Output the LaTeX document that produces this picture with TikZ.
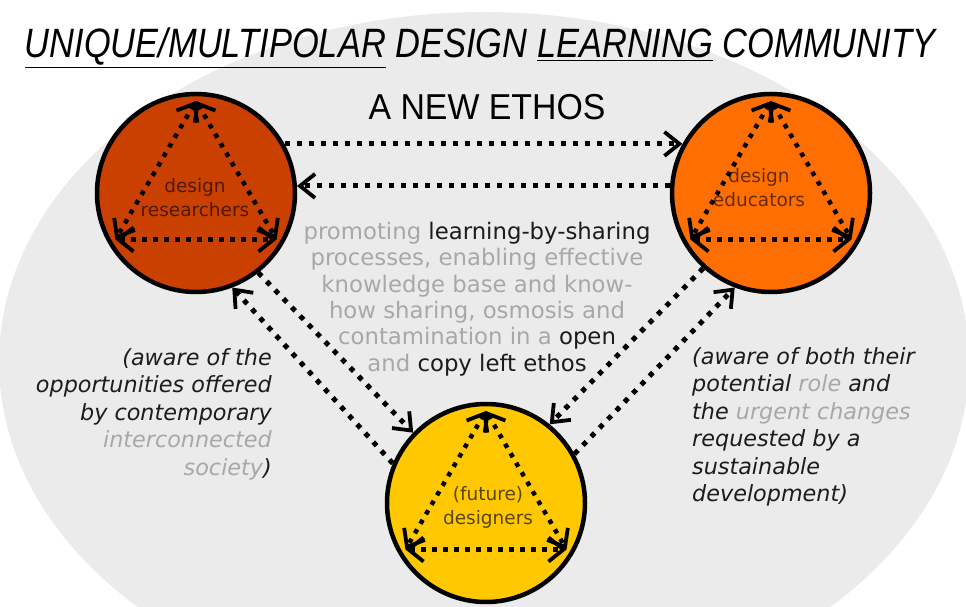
\documentclass[tikz,border=0pt]{standalone}
\usepackage{fontspec}
\setmainfont{DejaVu Sans}
\newfontfamily\narrowfont[FakeStretch=0.84]{Liberation Sans}
\newfontfamily\ethosfont[FakeStretch=0.94]{Liberation Sans}
\usetikzlibrary{arrows.meta}
\definecolor{ellgrey}{RGB}{235,235,235}
\definecolor{resfill}{RGB}{201,64,0}
\definecolor{edufill}{RGB}{255,110,0}
\definecolor{desfill}{RGB}{255,200,0}
\definecolor{txtgrey}{RGB}{168,168,168}
\definecolor{txtdark}{RGB}{28,28,28}

\begin{document}
\begin{tikzpicture}[x=1pt,y=1pt,
    >={Straight Barb[length=15pt,width=24pt,line width=3.8pt]},
    pole/.style={circle,draw=black,line width=4.5pt,minimum size=198pt,inner sep=0pt},
    poletext/.style={font=\fontsize{18.5}{24}\selectfont,align=center},
    link/.style={line width=5pt,dash pattern=on 5pt off 7pt,->},
    tri/.style={line width=4.5pt,dash pattern=on 4.5pt off 6.5pt,<->},
    note/.style={font=\fontsize{22.3}{27.5}\selectfont\itshape,text=txtdark,inner sep=0pt}]
  \useasboundingbox (0,0) rectangle (966,607);
  \begin{scope}
    \clip (0,0) rectangle (966,607);
    \fill[ellgrey] (484,245) ellipse [x radius=485, y radius=350];
  \end{scope}
  %%
  \node[anchor=base,font=\narrowfont\itshape\fontsize{41}{46}\selectfont] (title) at (480,549)
    {\underline{UNIQUE/MULTIPOLAR}\ DESIGN \underline{LEARNING} COMMUNITY};
  \node[anchor=base,font=\ethosfont\fontsize{36}{42}\selectfont] (ethos) at (487,487) {A NEW ETHOS};
  %%
  \node[pole,fill=resfill] (res) at (196,414) {};
  \node[pole,fill=edufill] (edu) at (771,414) {};
  \node[pole,fill=desfill] (des) at (486,104) {};
  \node[poletext,text=resfill!40!black] (restext) at (195,409) {design\\researchers};
  \node[poletext,text=edufill!40!black] (edutext) at (759,419) {design\\educators};
  \node[poletext,text=desfill!35!black] (destext) at (488,100) {(future)\\designers};
  %%
  \foreach \p in {res,edu,des}{
    \coordinate (\p-top) at ([shift={(90:92)}]\p.center);
    \coordinate (\p-left) at ([shift={(210:93)}]\p.center);
    \coordinate (\p-right) at ([shift={(330:93)}]\p.center);
    \draw[tri] (\p-top) -- (\p-left);
    \draw[tri] (\p-top) -- (\p-right);
    \draw[tri] (\p-left) -- (\p-right);
  }
  %%
  \draw[link] (res.29) -- (edu.151);
  \draw[link] (edu.176) -- (res.4);
  \draw[link] (res.-52) -- (des.136);
  \draw[link] (des.157) -- (res.-69);
  \draw[link] (edu.-132) -- (des.51);
  \draw[link] (des.29) -- (edu.-111);
  %%
  \node[font=\fontsize{22.8}{26.3}\selectfont,align=center,text=txtdark] (ethostext) at (477,308) {%
    \textcolor{txtgrey}{promoting} learning-by-sharing\\
    \textcolor{txtgrey}{processes, enabling effective}\\
    \textcolor{txtgrey}{knowledge base and know-}\\
    \textcolor{txtgrey}{how sharing, osmosis and}\\
    \textcolor{txtgrey}{contamination in a} open\\
    \textcolor{txtgrey}{and} copy left ethos};
  \node[note,anchor=east,align=right] (resnote) at (272,193) {%
    (aware of the\\
    opportunities offered\\
    by contemporary\\
    \textcolor{txtgrey}{interconnected}\\
    \textcolor{txtgrey}{society})};
  \node[note,anchor=west,align=left] (edunote) at (692,180) {%
    (aware of both their\\
    potential \textcolor{txtgrey}{role} and\\
    the \textcolor{txtgrey}{urgent changes}\\
    requested by a\\
    sustainable\\
    development)};
\end{tikzpicture}
\end{document}
